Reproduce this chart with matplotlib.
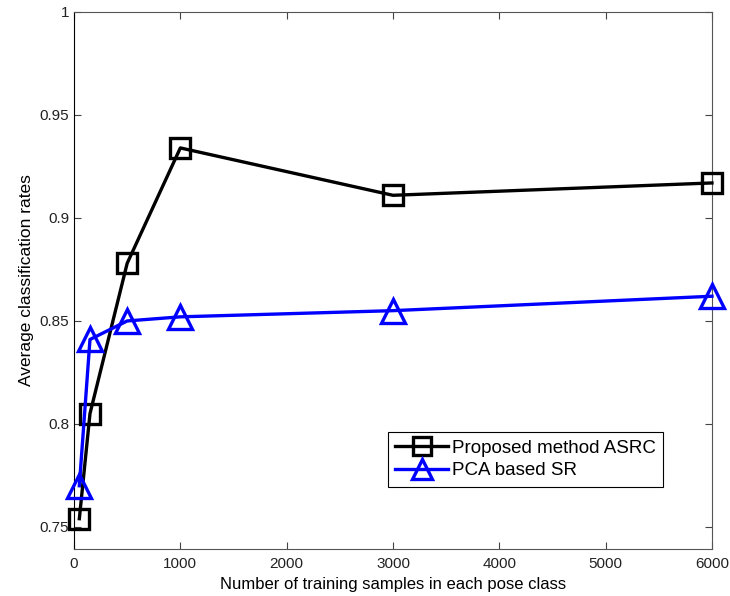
import matplotlib
matplotlib.use("Agg")
import matplotlib.pyplot as plt

plt.rcParams["font.family"] = ["Liberation Sans", "DejaVu Sans"]

# values
samples = [50, 150, 500, 1000, 3000, 6000]
asrc_rates = [0.754, 0.805, 0.878, 0.934, 0.911, 0.917]
pca_sr_rates = [0.770, 0.841, 0.850, 0.852, 0.855, 0.862]
x_ticks = [0, 1000, 2000, 3000, 4000, 5000, 6000]
y_ticks = [0.75, 0.8, 0.85, 0.9, 0.95, 1.0]
y_tick_labels = ["0.75", "0.8", "0.85", "0.9", "0.95", "1"]

fig = plt.figure(figsize=(7.3, 5.96), dpi=100)
ax = fig.add_axes([0.1014, 0.0789, 0.8739, 0.9010])

ax.plot(samples, asrc_rates, color="black", lw=2.4, marker="s", ms=15,
        mfc="none", mec="black", mew=2.4, label="Proposed method ASRC",
        clip_on=False, zorder=3)
ax.plot(samples, pca_sr_rates, color="#0000ff", lw=2.4, marker="^", ms=17,
        mfc="none", mec="#0000ff", mew=2.4, label="PCA based SR",
        clip_on=False, zorder=3)

ax.set_xlim(0, 6000)
ax.set_ylim(0.7393, 1.0)
ax.set_xticks(x_ticks)
ax.set_yticks(y_ticks)
ax.set_yticklabels(y_tick_labels)
ax.tick_params(direction="in", length=5, width=0.8, labelsize=11,
               top=True, right=True, labelcolor="#222222", colors="#444444")
ax.tick_params(axis="x", pad=6)

for side in ["top", "right", "bottom"]:
    ax.spines[side].set_color("#555555")
ax.spines["left"].set_color("black")

ax.set_xlabel("Number of training samples in each pose class", fontsize=12)
ax.set_ylabel("Average classification rates", fontsize=12.5)

leg = ax.legend(loc="upper left", bbox_to_anchor=(0.492, 0.218), fontsize=13.5,
                fancybox=False, framealpha=1, edgecolor="black",
                handlelength=2.8, borderpad=0.4, labelspacing=0.3,
                handletextpad=0.2, borderaxespad=0, markerscale=0.85)
leg.get_frame().set_linewidth(0.8)
leg.set_zorder(5)

fig.savefig("out.png", dpi=100)
